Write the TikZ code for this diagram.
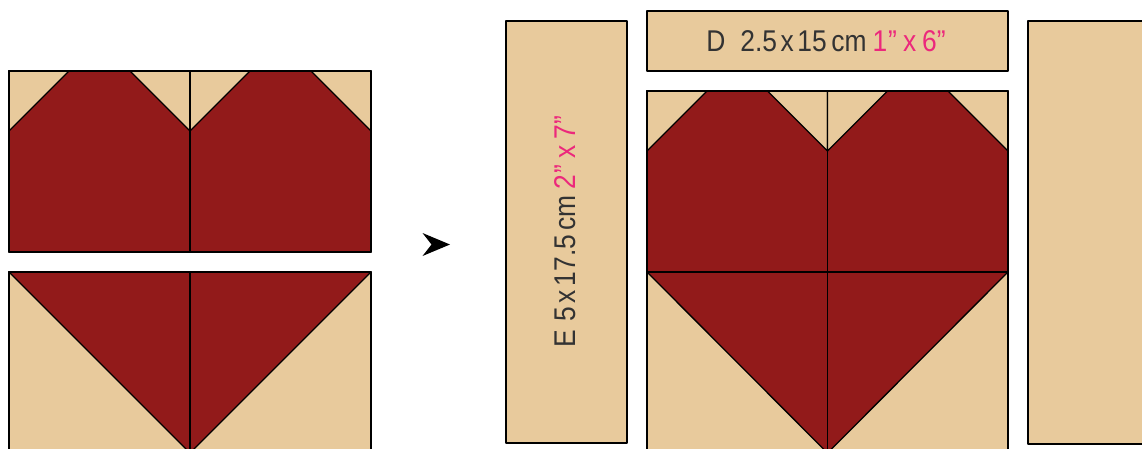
\documentclass[tikz,border=0pt]{standalone}
\usepackage{fontspec}
\setmainfont{Liberation Sans}
\newfontfamily\labfont[FakeStretch=0.88]{Liberation Sans}
\definecolor{heartred}{RGB}{146,26,26}
\definecolor{fabric}{RGB}{232,202,156}
\definecolor{labgrey}{RGB}{51,51,51}
\definecolor{labpink}{RGB}{236,40,124}
\begin{document}
\begin{tikzpicture}[x=1pt,y=-1pt,
  patch/.style={draw=black,line width=1.3pt,line join=round},
  redpatch/.style={patch,fill=heartred},
  tanpatch/.style={patch,fill=fabric},
  seam/.style={draw=black,line width=1.1pt},
  lab/.style={font=\labfont\fontsize{30}{30}\selectfont,text=labgrey,inner sep=0pt}]
\useasboundingbox (0,0) rectangle (1142,448);
\fill[white] (0,0) rectangle (1142,448);
% ---- left: top half (two heart-top squares)
\path[redpatch] (9,71) rectangle (371,252);
\path[tanpatch] (9,71) -- (69,71) -- (9,131) -- cycle;
\path[tanpatch] (130,71) -- (190,71) -- (190,131) -- cycle;
\path[tanpatch] (190,71) -- (250,71) -- (190,131) -- cycle;
\path[tanpatch] (311,71) -- (371,71) -- (371,131) -- cycle;
\draw[seam] (190,71) -- (190,252);
\draw[patch] (9,71) rectangle (371,252);
% ---- left: bottom half (two half-square triangles)
\path[tanpatch] (9,272) rectangle (371,453);
\path[redpatch] (9,272) -- (371,272) -- (190,453) -- cycle;
\draw[seam] (190,272) -- (190,453);
\draw[patch] (9,272) rectangle (371,453);
% ---- arrow
\fill[black] (422.5,233) -- (450,244.5) -- (422.5,256) -- (431.5,244.5) -- cycle;
% ---- E strip
\path[tanpatch] (506,21) rectangle (627,443);
\node[lab,rotate=90] (E) at (565.5,232) {E\hspace{0.3em}5\hspace{0.12em}x\hspace{0.12em}17.5\hspace{0.15em}cm\hspace{0.2em}\textcolor{labpink}{2\kern1pt”\hspace{0.2em}x\hspace{0.2em}7”}};
% ---- D strip
\path[tanpatch] (647,11) rectangle (1008,71);
\node[lab] (D) at (826,41) {D\hspace{0.5em}2.5\hspace{0.12em}x\hspace{0.12em}15\hspace{0.15em}cm\hspace{0.2em}\textcolor{labpink}{1\kern1pt”\hspace{0.2em}x\hspace{0.2em}6”}};
% ---- right strip
\path[tanpatch] (1028,21) rectangle (1149,444);
% ---- assembled heart: top
\path[redpatch] (647,91) rectangle (1008,272);
\path[tanpatch] (647,91) -- (707,91) -- (647,151) -- cycle;
\path[tanpatch] (767.5,91) -- (827.5,91) -- (827.5,151) -- cycle;
\path[tanpatch] (827.5,91) -- (887.5,91) -- (827.5,151) -- cycle;
\path[tanpatch] (948,91) -- (1008,91) -- (1008,151) -- cycle;
% ---- assembled heart: bottom
\path[tanpatch] (647,272) rectangle (1008,453);
\path[redpatch] (647,272) -- (1008,272) -- (827.5,453) -- cycle;
\draw[seam] (827.5,91) -- (827.5,453);
\draw[patch] (647,91) rectangle (1008,453);
\draw[patch] (647,272) -- (1008,272);
\end{tikzpicture}
\end{document}
